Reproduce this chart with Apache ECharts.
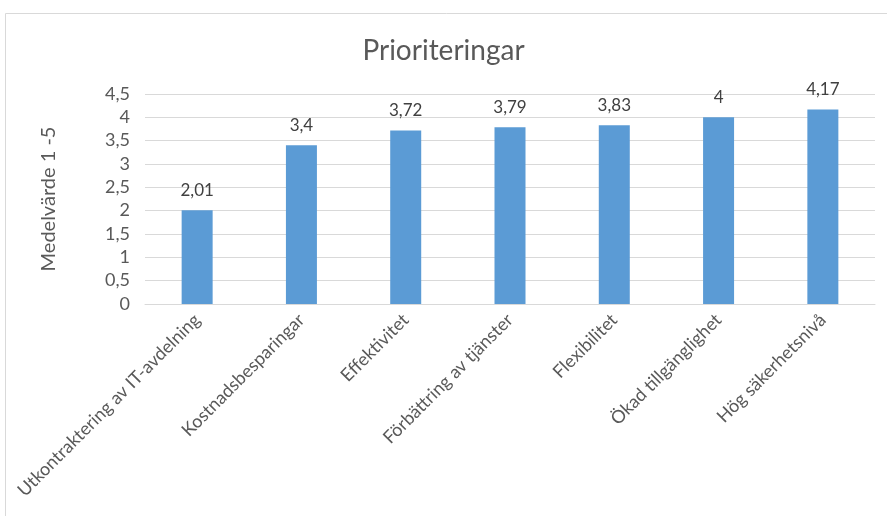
<!DOCTYPE html>
<html><head><meta charset="utf-8">
<script src="https://cdn.jsdelivr.net/npm/echarts@6/dist/echarts.min.js"></script>
<style>html,body{margin:0;padding:0;background:#fff}#c{width:887px;height:516px}</style>
</head><body><div id="c"></div>
<script>
const categories = ['Utkontraktering av IT-avdelning','Kostnadsbesparingar','Effektivitet','Förbättring av tjänster','Flexibilitet','Ökad tillgänglighet','Hög säkerhetsnivå'];
const values = [2.01, 3.4, 3.72, 3.79, 3.83, 4, 4.17];
const yTicks = [0, 0.5, 1, 1.5, 2, 2.5, 3, 3.5, 4, 4.5];
const fmt = v => String(v).replace('.', ',');
const FONT = 'Lato,"Open Sans",sans-serif';
const chart = echarts.init(document.getElementById('c'), null, {renderer:'canvas'});
chart.setOption({
  animation:false,
  graphic:[{type:'rect', shape:{x:5.5,y:13.5,width:1000,height:1000}, style:{fill:'none',stroke:'#d9d9d9',lineWidth:1}, z:-1}],
  title:{text:'Prioriteringar', left:'center', top:32, textStyle:{fontFamily:FONT,fontSize:28,fontWeight:'normal',color:'#595959'}},
  grid:{left:145,right:12,top:94,bottom:212,containLabel:false},
  xAxis:{type:'category', data:categories,
    axisLine:{lineStyle:{color:'#d9d9d9'}}, axisTick:{show:false},
    axisLabel:{rotate:45, interval:0, color:'#595959', fontFamily:FONT, fontSize:18, margin:13}},
  yAxis:{type:'value', min:0, max:4.5, interval:0.5,
    name:'Medelvärde 1 -5', nameLocation:'middle', nameGap:86, nameRotate:90,
    nameTextStyle:{fontFamily:FONT,fontSize:20,color:'#595959'},
    axisLine:{show:false}, axisTick:{show:false},
    splitLine:{lineStyle:{color:'#d9d9d9'}},
    axisLabel:{color:'#595959', fontFamily:FONT, fontSize:18, margin:15, formatter:v=>fmt(yTicks.find(t=>Math.abs(t-v)<1e-9) ?? v)}},
  series:[{type:'bar', data:values, barWidth:31, itemStyle:{color:'#5b9bd5'},
    label:{show:true, position:'top', distance:11, color:'#404040', fontFamily:FONT, fontSize:17, formatter:p=>fmt(p.value)}}]
});
</script></body></html>
